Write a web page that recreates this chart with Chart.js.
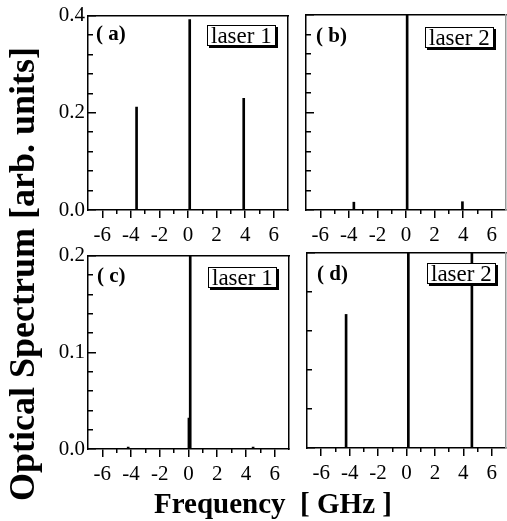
<!DOCTYPE html>
<html>
<head>
<meta charset="utf-8">
<script src="https://cdn.jsdelivr.net/npm/chart.js@4.4.1/dist/chart.umd.min.js"></script>
<style>
  html,body{margin:0;padding:0;background:#fff;}
  #wrap{position:relative;width:507px;height:521px;overflow:hidden;background:#fff;}
  canvas{position:absolute;}
  .plabel{position:absolute;font:bold 21px 'Liberation Serif','Times New Roman',serif;line-height:21px;white-space:pre;color:#000;}
  .lbox{position:absolute;font:23px 'Liberation Serif','Times New Roman',serif;line-height:19px;border:1.5px solid #000;box-shadow:2px 2px 0 #000;padding:0 3px;background:#fff;white-space:pre;color:#000;}
  .ytitle{position:absolute;left:-278px;top:253px;width:600px;line-height:40px;text-align:center;font:bold 36px 'Liberation Serif','Times New Roman',serif;transform:rotate(-90deg);white-space:pre;color:#000;}
  .xtitle{position:absolute;left:73px;top:487px;width:400px;line-height:30px;text-align:center;font:bold 29px 'Liberation Serif','Times New Roman',serif;white-space:pre;color:#000;}
</style>
</head>
<body>
<div id="wrap">
  <canvas id="ca" width="260" height="250" style="left:40px;top:0px"></canvas>
  <canvas id="cb" width="217" height="250" style="left:290px;top:0px"></canvas>
  <canvas id="cc" width="260" height="250" style="left:40px;top:240px"></canvas>
  <canvas id="cd" width="217" height="250" style="left:290px;top:240px"></canvas>

  <div class="plabel" style="left:96px;top:23px">( a)</div>
  <div class="plabel" style="left:316px;top:25px">( b)</div>
  <div class="plabel" style="left:97px;top:265px">( c)</div>
  <div class="plabel" style="left:317px;top:263px">( d)</div>

  <div class="lbox" style="left:207px;top:25px">laser 1</div>
  <div class="lbox" style="left:425px;top:27px">laser 2</div>
  <div class="lbox" style="left:208px;top:267px">laser 1</div>
  <div class="lbox" style="left:427px;top:263px">laser 2</div>

  <div class="ytitle">Optical Spectrum [arb. units]</div>
  <div class="xtitle">Frequency&nbsp; [ GHz ]</div>
</div>
<script>
// ---- data ----
const freqA = [-3.6, 0.12, 3.9];
const specA = [0.212, 0.392, 0.230];
const freqB = [-3.65, 0.08, 3.95];
const specB = [0.016, 0.45, 0.017];
const freqC = [-4.2, 0.03, 0.12, 4.5];
const specC = [0.002, 0.032, 0.25, 0.002];
const freqD = [-4.25, 0.13, 4.6];
const specD = [0.137, 0.25, 0.25];

// ---- ticks ----
const xMajorTicks = [-6, -4, -2, 0, 2, 4, 6];
const xMinorTicks = [-5, -3, -1, 1, 3, 5];
const yMajorTop = [0, 0.2, 0.4];
const yLabelsTop = ['0.0', '0.2', '0.4'];
const yMinorTop = [0.04, 0.08, 0.12, 0.16, 0.24, 0.28, 0.32, 0.36];
const yMajorBottom = [0, 0.1, 0.2];
const yLabelsBottom = ['0.0', '0.1', '0.2'];
const yMinorC = [0.02, 0.04, 0.06, 0.08, 0.12, 0.14, 0.16, 0.18];
const yMajorD = [0, 0.2];
const yMinorD = [0.04, 0.08, 0.12, 0.16];

Chart.defaults.font.family = "'Liberation Serif','Times New Roman',serif";
Chart.defaults.color = '#000';

function setTicks(vals) {
  return function (scale) { scale.ticks = vals.map(v => ({ value: v })); };
}

function panel(id, freq, spec, o) {
  const data = freq.map((f, i) => ({ x: f, y: spec[i] }));
  const lw = 1.5;
  new Chart(document.getElementById(id), {
    type: 'bar',
    data: { datasets: [{ data, backgroundColor: '#000', borderWidth: 0, barThickness: 2, clip: 0 }] },
    options: {
      responsive: false,
      animation: false,
      events: [],
      layout: { padding: { top: o.top, right: o.right, left: 0, bottom: 0 } },
      plugins: { legend: { display: false }, tooltip: { enabled: false } },
      scales: {
        x: {
          type: 'linear', position: 'bottom', min: -7, max: 7, offset: false, weight: 0,
          grid: { offset: false, drawOnChartArea: false, drawTicks: true, tickLength: 8, color: '#000', lineWidth: lw },
          border: { display: true, color: '#000', width: lw },
          ticks: { autoSkip: false, maxRotation: 0, minRotation: 0, padding: 5, color: '#000', font: { size: 21 } },
          afterBuildTicks: setTicks(xMajorTicks),
          afterFit: s => { s.height = o.xh; }
        },
        xMinor: {
          type: 'linear', position: 'bottom', min: -7, max: 7, offset: false, weight: -1,
          grid: { offset: false, drawOnChartArea: false, drawTicks: true, tickLength: 4, color: '#000', lineWidth: lw },
          border: { display: false },
          ticks: { display: false },
          afterBuildTicks: setTicks(xMinorTicks),
          afterFit: s => { s.height = 0; }
        },
        xTop: {
          type: 'linear', position: 'top', min: -7, max: 7, offset: false,
          grid: { drawOnChartArea: false, drawTicks: false },
          border: { display: true, color: '#000', width: lw },
          ticks: { display: false },
          afterFit: s => { s.height = 0; }
        },
        y: {
          type: 'linear', position: 'left', min: 0, max: o.ymax, weight: 0,
          grid: { drawOnChartArea: false, drawTicks: false },
          border: { display: true, color: '#000', width: lw },
          ticks: { display: o.showY, padding: 3, color: '#000', font: { size: 21 }, autoSkip: false,
                   callback: (v, i) => o.yLabels[i] },
          afterBuildTicks: setTicks(o.yMajor),
          afterFit: s => { s.width = o.yw; }
        },
        yTickMajor: {
          type: 'linear', position: { x: -7 }, min: 0, max: o.ymax,
          grid: { drawOnChartArea: false, drawTicks: true, tickLength: -8, color: '#000', lineWidth: lw },
          border: { display: false },
          ticks: { display: false },
          afterBuildTicks: setTicks(o.yMajor)
        },
        yTickMinor: {
          type: 'linear', position: { x: -7 }, min: 0, max: o.ymax,
          grid: { drawOnChartArea: false, drawTicks: true, tickLength: -5, color: '#000', lineWidth: lw },
          border: { display: false },
          ticks: { display: false },
          afterBuildTicks: setTicks(o.yMinor)
        },
        yRight: {
          type: 'linear', position: 'right', min: 0, max: o.ymax,
          grid: { drawOnChartArea: false, drawTicks: false },
          border: { display: true, color: o.rightColor, width: lw },
          ticks: { display: false },
          afterFit: s => { s.width = 0; }
        }
      }
    }
  });
}

panel('ca', freqA, specA, { top: 15, right: 12, xh: 40, yw: 48, ymax: 0.4, showY: true, rightColor: '#000',
  yMajor: yMajorTop, yLabels: yLabelsTop, yMinor: yMinorTop });
panel('cb', freqB, specB, { top: 15, right: 1, xh: 40, yw: 16, ymax: 0.4, showY: false, rightColor: '#9a9a9a',
  yMajor: yMajorTop, yLabels: yLabelsTop, yMinor: yMinorTop });
panel('cc', freqC, specC, { top: 14, right: 11, xh: 41, yw: 48, ymax: 0.2, showY: true, rightColor: '#000',
  yMajor: yMajorBottom, yLabels: yLabelsBottom, yMinor: yMinorC });
panel('cd', freqD, specD, { top: 13, right: 1, xh: 42, yw: 17, ymax: 0.2, showY: false, rightColor: '#9a9a9a',
  yMajor: yMajorD, yLabels: ['', ''], yMinor: yMinorD });
</script>
</body>
</html>
